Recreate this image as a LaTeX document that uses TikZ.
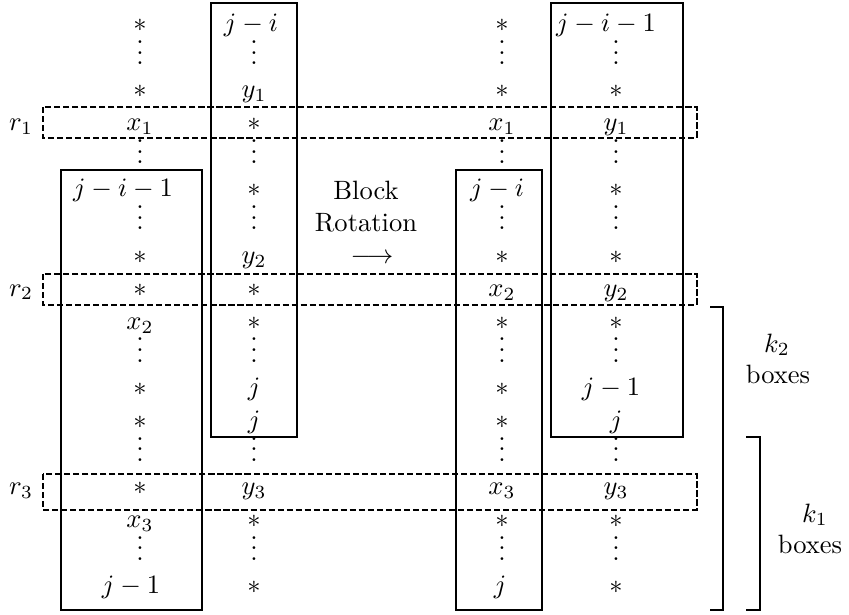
\documentclass[tikz,border=0pt]{standalone}
\usepackage{amsmath}
\usepackage{amssymb}
\usetikzlibrary{positioning}

% vertical dots without the top kern of \vdots
\newcommand{\vdd}{\vbox{\baselineskip4pt\lineskiplimit0pt\hbox{.}\hbox{.}\hbox{.}}}

\tikzset{
  cell/.style={anchor=base, inner sep=0pt},
  blockbox/.style={line width=1pt},
  rowbox/.style={line width=1pt, dash pattern=on 2.3pt off 1.1pt},
  brace/.style={line width=1pt}
}

\begin{document}
\begin{tikzpicture}[x=0.377pt, y=-0.377pt]
\useasboundingbox (0,0) rectangle (849,615);

% left column pair (before rotation)
\foreach \t/\dx [count=\k from 0] in {*/0, \vdd/0, */0, x_1/0, \vdd/0, j-i-1/-17, \vdd/0, */0, */0,
    x_2/0, \vdd/0, */0, */0, \vdd/0, */0, x_3/0, \vdd/0, j-1/-9}
  \node[cell] (a\k) at ({140+\dx},{31.6+33.06*\k}) {$\t$};
\foreach \t/\dx [count=\k from 0] in {j-i/-3, \vdd/0, y_1/0, */0, \vdd/0, */0, \vdd/0, y_2/0, */0,
    */0, \vdd/0, j/0, j/0, \vdd/0, y_3/0, */0, \vdd/0, */0}
  \node[cell] (b\k) at ({254+\dx},{31.6+33.06*\k}) {$\t$};

% right column pair (after rotation)
\foreach \t/\dx [count=\k from 0] in {*/0, \vdd/0, */0, x_1/0, \vdd/0, j-i/-5, \vdd/0, */0, x_2/0,
    */0, \vdd/0, */0, */0, \vdd/0, x_3/0, */0, \vdd/0, j/-2}
  \node[cell] (c\k) at ({502+\dx},{31.6+33.06*\k}) {$\t$};
\foreach \t/\dx [count=\k from 0] in {j-i-1/-10, \vdd/0, */0, y_1/0, \vdd/0, */0, \vdd/0, */0, y_2/0,
    */0, \vdd/0, j-1/-5, j/0, \vdd/0, y_3/0, */0, \vdd/0, */0}
  \node[cell] (d\k) at ({616+\dx},{31.6+33.06*\k}) {$\t$};

% blocks
\draw[blockbox] (211,3) rectangle (297,437);
\draw[blockbox] (61,170) rectangle (202,610);
\draw[blockbox] (551,3) rectangle (683,437);
\draw[blockbox] (456,170) rectangle (542,610);

% rows
\draw[rowbox] (43,107) rectangle (697,138);
\draw[rowbox] (43,274) rectangle (697,305);
\draw[rowbox] (43,474) rectangle (697,510);
\node[cell] (r1) at (21,130.8) {$r_1$};
\node[cell] (r2) at (21,296) {$r_2$};
\node[cell] (r3) at (21,494.4) {$r_3$};

% rotation label
\node[cell] (block) at (366,199) {Block};
\node[cell] (rot) at (366,231) {Rotation};
\node[cell] (arr) at (372,263) {$\longrightarrow$};

% braces
\draw[brace] (710,307) -- (723,307) -- (723,610) -- (710,610);
\draw[brace] (746,437) -- (760,437) -- (760,610) -- (746,610);
\node[cell] (k2) at (777,352) {$k_2$};
\node[cell] (k2b) at (778,383) {boxes};
\node[cell] (k1) at (815,522) {$k_1$};
\node[cell] (k1b) at (810,553) {boxes};
\end{tikzpicture}
\end{document}
